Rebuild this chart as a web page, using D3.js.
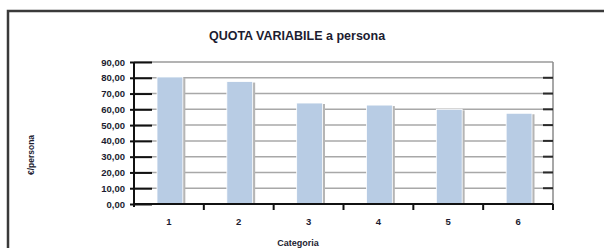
<!DOCTYPE html>
<html>
<head>
<meta charset="utf-8">
<script src="https://cdn.jsdelivr.net/npm/d3@7"></script>
<style>
  body { margin: 0; background: #fff; }
  text { font-family: "Liberation Sans", Arial, sans-serif; fill: #1c1c30; }
</style>
</head>
<body>
<div id="container"></div>
<script>
/* DATA */
const categories = ["1", "2", "3", "4", "5", "6"];
const values = [80.5, 77.6, 64.0, 62.7, 60.0, 57.5];
const yTicks = [0, 10, 20, 30, 40, 50, 60, 70, 80, 90];
const title = "QUOTA VARIABILE a persona";
const yTitle = "€/persona";
const xTitle = "Categoria";

/* CONSTANTS */
const width = 604, height = 248;
const plot = { left: 134, right: 553, top: 62, bottom: 204 };

const svg = d3.select("#container").append("svg")
  .attr("width", width)
  .attr("height", height);

// outer frame (runs off the right and bottom edge)
svg.append("rect")
  .attr("x", 8).attr("y", 11)
  .attr("width", 700).attr("height", 300)
  .attr("fill", "none")
  .attr("stroke", "#3a3a3a")
  .attr("stroke-width", 2.5);

/* SCALES */
const xScale = d3.scaleBand()
  .domain(categories)
  .range([plot.left, plot.right])
  .paddingInner(0.63)
  .paddingOuter(0.315);

const yScale = d3.scaleLinear()
  .domain([0, 90])
  .range([plot.bottom, plot.top]);

const step = xScale.step();
const fmt = d => d3.format(".2f")(d).replace(".", ",");

// gridlines
svg.append("g")
  .selectAll("line")
  .data(yTicks.filter(d => d > 0))
  .join("line")
  .attr("x1", plot.left)
  .attr("x2", plot.right)
  .attr("y1", d => yScale(d))
  .attr("y2", d => yScale(d))
  .attr("stroke", d => d === 90 ? "#9a9a9a" : "#a8a8a8")
  .attr("stroke-width", 1.5);

// right wall edge
svg.append("line")
  .attr("x1", plot.right).attr("x2", plot.right)
  .attr("y1", plot.top).attr("y2", plot.bottom + 4)
  .attr("stroke", "#8a8a8a")
  .attr("stroke-width", 1.5);

// dark tick ends on the right
svg.append("g")
  .selectAll("line")
  .data(yTicks.filter(d => d > 0 && d < 90))
  .join("line")
  .attr("x1", plot.right - 10)
  .attr("x2", plot.right)
  .attr("y1", d => yScale(d))
  .attr("y2", d => yScale(d))
  .attr("stroke", "#2a2a2a")
  .attr("stroke-width", 2);

// bars with a soft shadow
const bars = svg.append("g");
bars.selectAll("rect.shadow")
  .data(values)
  .join("rect")
  .attr("class", "shadow")
  .attr("x", (d, i) => xScale(categories[i]) + 2)
  .attr("y", d => yScale(d) + 1)
  .attr("width", xScale.bandwidth() + 1.5)
  .attr("height", d => yScale(0) - yScale(d) - 1)
  .attr("fill", "#b5b5b5");
bars.selectAll("rect.bar")
  .data(values)
  .join("rect")
  .attr("class", "bar")
  .attr("x", (d, i) => xScale(categories[i]) + 1)
  .attr("y", d => yScale(d))
  .attr("width", xScale.bandwidth())
  .attr("height", d => yScale(0) - yScale(d))
  .attr("fill", "#b8cce4")
  .attr("stroke", "#ffffff")
  .attr("stroke-width", 0.8);

// y axis
const yAxis = d3.axisLeft(yScale)
  .tickValues(yTicks)
  .tickFormat(fmt)
  .tickSize(4)
  .tickPadding(5);
const yg = svg.append("g")
  .attr("transform", `translate(${plot.left},0)`)
  .call(yAxis);
yg.select(".domain").attr("stroke", "#111").attr("stroke-width", 2)
  .attr("d", `M0,${plot.top}V${plot.bottom + 3}`);
yg.selectAll(".tick line").attr("stroke", "#111").attr("stroke-width", 2)
  .attr("x1", 18).attr("x2", -4);
yg.selectAll(".tick text")
  .attr("font-size", 9.5)
  .attr("font-weight", "bold")
  .attr("x", -9);

// x axis
const xAxis = d3.axisBottom(xScale).tickSize(0).tickPadding(14);
const xg = svg.append("g")
  .attr("transform", `translate(0,${plot.bottom})`)
  .call(xAxis);
xg.select(".domain").attr("stroke", "#111").attr("stroke-width", 2)
  .attr("d", `M${plot.left},0H${plot.right}`);
xg.selectAll(".tick text")
  .attr("font-size", 9.5)
  .attr("font-weight", "bold");

// category separators below the axis
xg.append("g")
  .selectAll("line")
  .data(categories.slice(1).concat(["end"]))
  .join("line")
  .attr("x1", (d, i) => plot.left + step * (i + 1))
  .attr("x2", (d, i) => plot.left + step * (i + 1))
  .attr("y1", 0)
  .attr("y2", 6)
  .attr("stroke", "#111")
  .attr("stroke-width", 2);

// titles
svg.append("text")
  .attr("x", 297).attr("y", 40)
  .attr("text-anchor", "middle")
  .attr("font-size", 12.5)
  .attr("font-weight", "bold")
  .text(title);

svg.append("text")
  .attr("transform", "translate(34,155) rotate(-90)")
  .attr("text-anchor", "middle")
  .attr("font-size", 8.5)
  .attr("font-weight", "bold")
  .text(yTitle);

svg.append("text")
  .attr("x", 298).attr("y", 246)
  .attr("text-anchor", "middle")
  .attr("font-size", 9)
  .attr("font-weight", "bold")
  .text(xTitle);
</script>
</body>
</html>
